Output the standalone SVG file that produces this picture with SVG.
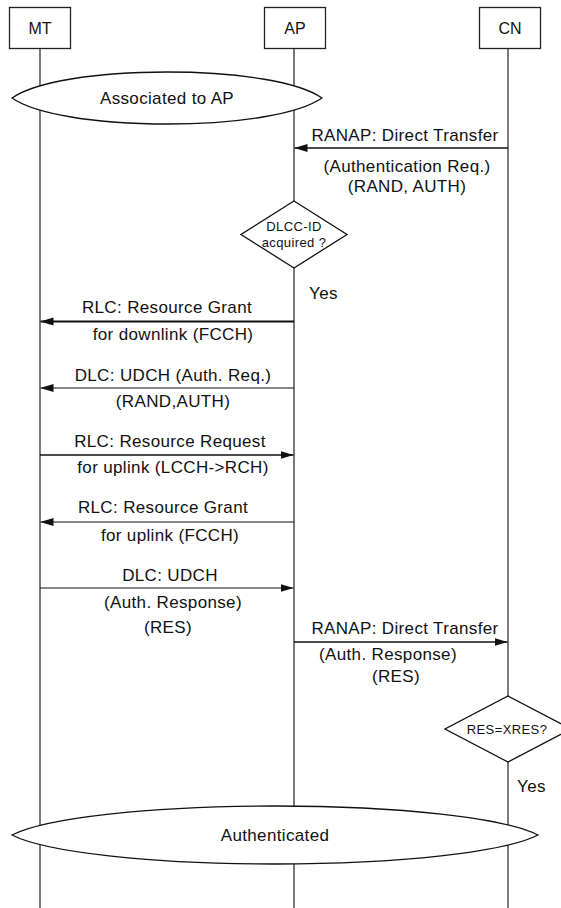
<svg xmlns="http://www.w3.org/2000/svg" width="561" height="908" viewBox="0 0 561 908">
  <style>
    .life { stroke: #222; stroke-width: 1.2; fill: none; }
    .box { fill: #fff; stroke: #222; stroke-width: 1.3; }
    .state { fill: #fff; stroke: #111; stroke-width: 1.3; }
    .msg { stroke: #111; fill: none; }
    .t { font-family: "Liberation Sans", Arial, sans-serif; fill: #111; }
    .lbl { font-size: 17px; letter-spacing: 0.35px; text-anchor: middle; }
    .head { font-size: 16px; text-anchor: middle; }
    .small { font-size: 13px; letter-spacing: 0.4px; text-anchor: middle; }
    .yes { font-size: 17px; letter-spacing: 0.35px; }
  </style>
  <defs>
    <marker id="arrow" markerUnits="userSpaceOnUse" markerWidth="13" markerHeight="9" refX="13" refY="4.5" orient="auto">
      <path d="M0,0.5 L13,4.5 L0,8.5 Z" fill="#111"/>
    </marker>
  </defs>

  <rect width="561" height="908" fill="#fff"/>

  <!-- lifelines -->
  <g id="lifelines">
    <line class="life" x1="40" y1="48" x2="40" y2="908"/>
    <line class="life" x1="294" y1="48" x2="294" y2="908"/>
    <line class="life" x1="508" y1="48" x2="508" y2="908"/>
  </g>

  <!-- participants -->
  <g id="MT">
    <rect class="box" x="9.5" y="7.5" width="61" height="41"/>
    <text class="t head" x="40" y="33.5">MT</text>
  </g>
  <g id="AP">
    <rect class="box" x="264.5" y="7.5" width="61" height="41"/>
    <text class="t head" x="295" y="33.5">AP</text>
  </g>
  <g id="CN">
    <rect class="box" x="479.5" y="7.5" width="61" height="41"/>
    <text class="t head" x="510" y="33.5">CN</text>
  </g>

  <!-- states -->
  <g id="associated">
    <path class="state" d="M12,98 C35,82 95,72 167,72 C239,72 299,82 322,98 C299,114 239,124 167,124 C95,124 35,114 12,98 Z"/>
    <text class="t lbl" x="167" y="104">Associated to AP</text>
  </g>
  <g id="authenticated">
    <path class="state" d="M12,835 C45,818 150,806 275,806 C400,806 505,818 538,835 C505,852 400,864 275,864 C150,864 45,852 12,835 Z"/>
    <text class="t lbl" x="275" y="841">Authenticated</text>
  </g>

  <!-- decisions -->
  <g id="dlcc-check">
    <polygon class="state" points="294,201 347,234.5 294,268 241,234.5"/>
    <text class="t small" x="294" y="231">DLCC-ID</text>
    <text class="t small" x="294" y="247">acquired ?</text>
    <text class="t yes" x="309" y="299">Yes</text>
  </g>
  <g id="res-check">
    <polygon class="state" points="508,696 571,729 508,762 445,729"/>
    <text class="t small" x="507" y="733.5">RES=XRES?</text>
    <text class="t yes" x="517" y="792">Yes</text>
  </g>

  <!-- messages -->
  <g id="connectors">
    <line class="msg" x1="508" y1="148" x2="294.5" y2="148" stroke-width="1.6" marker-end="url(#arrow)"/>
    <line class="msg" x1="294" y1="321.5" x2="40.5" y2="321.5" stroke-width="2" marker-end="url(#arrow)"/>
    <line class="msg" x1="294" y1="388" x2="40.5" y2="388" stroke-width="1.1" marker-end="url(#arrow)"/>
    <line class="msg" x1="40" y1="455" x2="293.5" y2="455" stroke-width="1.7" marker-end="url(#arrow)"/>
    <line class="msg" x1="294" y1="522" x2="40.5" y2="522" stroke-width="1.1" marker-end="url(#arrow)"/>
    <line class="msg" x1="40" y1="588" x2="293.5" y2="588" stroke-width="1.1" marker-end="url(#arrow)"/>
    <line class="msg" x1="294" y1="642" x2="507.5" y2="642" stroke-width="1.3" marker-end="url(#arrow)"/>
  </g>

  <!-- message labels -->
  <g id="labels">
    <text class="t lbl" x="405" y="141">RANAP: Direct Transfer</text>
    <text class="t lbl" x="407" y="172">(Authentication Req.)</text>
    <text class="t lbl" x="407" y="192">(RAND, AUTH)</text>

    <text class="t lbl" x="167" y="313">RLC: Resource Grant</text>
    <text class="t lbl" x="173" y="340">for downlink (FCCH)</text>

    <text class="t lbl" x="173" y="381">DLC: UDCH (Auth. Req.)</text>
    <text class="t lbl" x="173" y="407">(RAND,AUTH)</text>

    <text class="t lbl" x="170" y="446.5">RLC: Resource Request</text>
    <text class="t lbl" x="173" y="473">for uplink (LCCH-&gt;RCH)</text>

    <text class="t lbl" x="163" y="513">RLC: Resource Grant</text>
    <text class="t lbl" x="170" y="541">for uplink (FCCH)</text>

    <text class="t lbl" x="170" y="581">DLC: UDCH</text>
    <text class="t lbl" x="173" y="608">(Auth. Response)</text>
    <text class="t lbl" x="168" y="633">(RES)</text>

    <text class="t lbl" x="405" y="634">RANAP: Direct Transfer</text>
    <text class="t lbl" x="388" y="660">(Auth. Response)</text>
    <text class="t lbl" x="396" y="682">(RES)</text>
  </g>
</svg>
